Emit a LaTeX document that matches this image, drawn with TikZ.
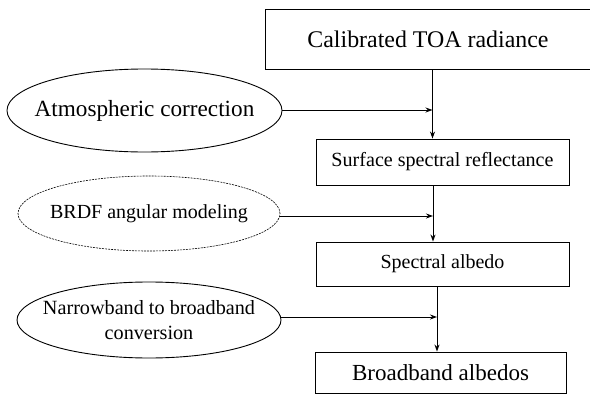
\documentclass[tikz,border=0pt]{standalone}
\usepackage{fontspec}
\setmainfont{Liberation Serif}
\usetikzlibrary{shapes.geometric,arrows.meta}
\begin{document}
\begin{tikzpicture}[x=1pt,y=-1pt,line width=0.9pt,
  stepbox/.style={draw, rectangle, inner sep=0pt},
  procell/.style={draw, ellipse, inner sep=-40pt},
  flow/.style={-{Stealth[length=7pt,width=5pt]}}]
\useasboundingbox (0,0) rectangle (590,399);
% boxes of the main chain
\node[stepbox, minimum width=326, minimum height=60, font=\fontsize{23.9}{26}\selectfont] (toa) at (428,39){Calibrated TOA radiance};
\node[stepbox, minimum width=253, minimum height=46, font=\fontsize{20.1}{22}\selectfont] (refl) at (442.5,162){Surface spectral reflectance};
\node[stepbox, minimum width=253, minimum height=44, font=\fontsize{20}{22}\selectfont] (spec) at (442.5,264){Spectral albedo};
\node[stepbox, minimum width=251, minimum height=41, font=\fontsize{23}{25}\selectfont] (broad) at (440.5,372.5){Broadband albedos};
% ellipses on the left
\node[procell, minimum width=275, minimum height=83, font=\fontsize{23.2}{25}\selectfont] (atm) at (144.5,110.5){Atmospheric correction};
\node[procell, dash pattern=on 2pt off 1pt, line width=0.6pt, minimum width=262, minimum height=75, font=\fontsize{20}{22}\selectfont] (brdf) at (149,213.5){BRDF angular modeling};
\node[procell, minimum width=264, minimum height=76, font=\fontsize{20.2}{25}\selectfont, align=center] (nb) at (149,320){Narrowband to broadband\\conversion};
% junctions
\coordinate (j1) at (432.5,110);
\coordinate (j2) at (433,216);
\coordinate (j3) at (437,317);
\draw[flow] (toa.south -| j1) -- (refl.north -| j1);
\draw[flow] (atm.east |- j1) -- (j1);
\draw[flow] (refl.south -| j2) -- (spec.north -| j2);
\draw[flow] (brdf.east |- j2) -- (j2);
\draw[flow] (spec.south -| j3) -- (broad.north -| j3);
\draw[flow] (nb.east |- j3) -- (j3);
\end{tikzpicture}
\end{document}
